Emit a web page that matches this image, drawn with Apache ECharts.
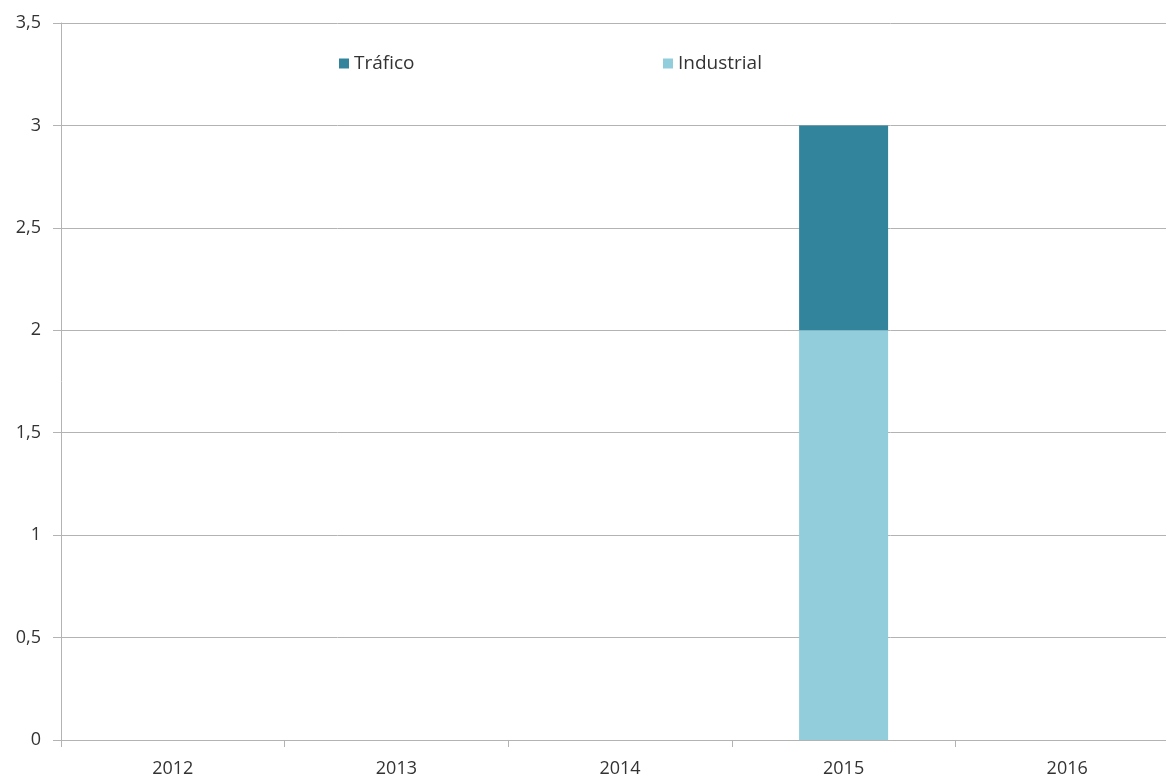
<!DOCTYPE html>
<html>
<head>
<meta charset="utf-8">
<script src="https://cdn.jsdelivr.net/npm/echarts@6/dist/echarts.min.js"></script>
<style>
  html, body { margin: 0; padding: 0; background: #ffffff; }
  #chart { width: 1166px; height: 778px; }
</style>
</head>
<body>
<div id="chart"></div>
<script>
// Años y valores por fuente
const years = ['2012', '2013', '2014', '2015', '2016'];
const industrial = [0, 0, 0, 2, 0];
const trafico = [0, 0, 0, 1, 0];
const yTicks = { min: 0, max: 3.5, interval: 0.5 };

const FONT = '"Open Sans", "Noto Sans", sans-serif';
const SIZE = 18;
const TEXT = '#333333';
const LINE = '#b3b3b3';

const legendText = { fontFamily: FONT, fontSize: 19, color: TEXT };

const chart = echarts.init(document.getElementById('chart'));
chart.setOption({
  animation: false,
  textStyle: { fontFamily: FONT },
  legend: [
    { data: ['Tráfico'], left: 339, top: 54, padding: 0, icon: 'rect', itemWidth: 10, itemHeight: 10, itemGap: 6,
      textStyle: legendText },
    { data: ['Industrial'], left: 663, top: 54, padding: 0, icon: 'rect', itemWidth: 10, itemHeight: 10, itemGap: 6,
      textStyle: legendText }
  ],
  grid: { left: 61, top: 23, width: 1118, bottom: 38, outerBoundsMode: 'none', containLabel: false },
  xAxis: {
    type: 'category',
    data: years,
    axisLine: { lineStyle: { color: LINE, width: 1 } },
    axisTick: { show: true, length: 7, lineStyle: { color: LINE } },
    axisLabel: { fontFamily: FONT, fontSize: SIZE, color: TEXT, margin: 20 }
  },
  yAxis: {
    type: 'value',
    min: yTicks.min, max: yTicks.max, interval: yTicks.interval,
    axisLine: { show: true, lineStyle: { color: LINE, width: 1 } },
    axisTick: { show: true, length: 8, lineStyle: { color: LINE } },
    splitLine: { lineStyle: { color: LINE, width: 1 } },
    axisLabel: {
      fontFamily: FONT, fontSize: SIZE, color: TEXT, margin: 20,
      formatter: v => String(v).replace('.', ',')
    }
  },
  series: [
    { name: 'Industrial', type: 'bar', stack: 'total', data: industrial, barWidth: 89,
      itemStyle: { color: '#92CDDC' } },
    { name: 'Tráfico', type: 'bar', stack: 'total', data: trafico, barWidth: 89,
      itemStyle: { color: '#31849B' } }
  ]
});
</script>
</body>
</html>
